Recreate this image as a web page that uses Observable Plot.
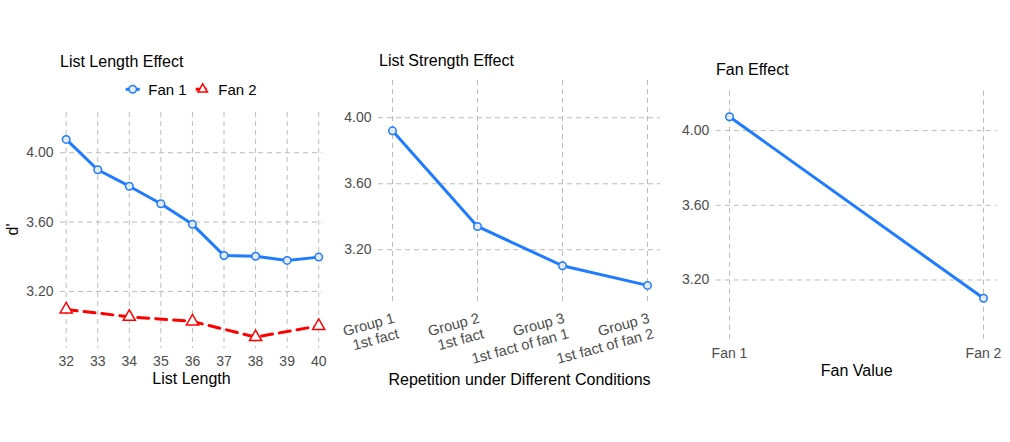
<!DOCTYPE html>
<html><head><meta charset="utf-8">
<script src="https://cdn.jsdelivr.net/npm/d3@7"></script>
<script src="https://cdn.jsdelivr.net/npm/@observablehq/plot@0.6"></script>
<style>
html,body{margin:0;padding:0;background:#fff;}
#wrap{position:relative;width:1010px;height:442px;overflow:hidden;background:#fff;}
#wrap svg{position:absolute;top:0;overflow:visible;}
</style></head><body><div id="wrap"></div>
<script>
// ---- data ----
const listLengths = [32, 33, 34, 35, 36, 37, 38, 39, 40];
const fan1ByLength = [4.077, 3.902, 3.807, 3.706, 3.587, 3.407, 3.403, 3.379, 3.398];
const fan2Lengths = [32, 34, 36, 38, 40];
const fan2ByLength = [3.096, 3.054, 3.027, 2.937, 3.001];
const conditions = ["Group 1\n1st fact", "Group 2\n1st fact", "Group 3\n1st fact of fan 1", "Group 3\n1st fact of fan 2"];
const strengthValues = [3.921, 3.341, 3.103, 2.984];
const fanLevels = ["Fan 1", "Fan 2"];
const fanValues = [4.074, 3.102];
const yTicks = [3.2, 3.6, 4.0];
const seriesNames = ["Fan 1", "Fan 2"];
const panelTitles = ["List Length Effect", "List Strength Effect", "Fan Effect"];
const xTitles = ["List Length", "Repetition under Different Conditions", "Fan Value"];
const yTitle = "d'";

// ---- styles ----
const FONT = '"Liberation Sans", Arial, Helvetica, sans-serif';
const BLUE = "#1f7bff", RED = "#ff0000", GRID = "#bbbbbb", TICK = "#4d4d4d";
const DOTFILL = "#e4ebf6";
const gridX = v => Plot.ruleX(v, {stroke: GRID, strokeWidth: 1, strokeDasharray: "5,4"});
const gridY = () => Plot.ruleY(yTicks, {stroke: GRID, strokeWidth: 1, strokeDasharray: "5,4"});
const axY = () => Plot.axisY({ticks: yTicks, tickFormat: d3.format(".2f"), tickSize: 0, tickPadding: 7, fontSize: 14, color: TICK, label: null});
const xTitle = (t, dy) => Plot.text([t], {text: d => d, frameAnchor: "bottom", dy, fontSize: 16, fill: "#000", lineAnchor: "middle"});

const fan1Data = listLengths.map((x, i) => ({x, y: fan1ByLength[i]}));
const fan2Data = fan2Lengths.map((x, i) => ({x, y: fan2ByLength[i]}));
const strengthData = conditions.map((c, i) => ({x: c, y: strengthValues[i]}));
const fanData = fanLevels.map((c, i) => ({x: c, y: fanValues[i]}));

const wrap = document.getElementById("wrap");

// ---- panel 1 ----
const p1 = Plot.plot({
  width: 335, height: 442,
  marginLeft: 60, marginRight: 13, marginTop: 112, marginBottom: 94,
  x: {domain: [31.82, 40.12]},
  y: {domain: [2.871, 4.232]},
  style: {fontFamily: FONT, background: "transparent"},
  marks: [
    gridX(listLengths), gridY(),
    Plot.axisX({ticks: listLengths, tickFormat: d => String(d), tickSize: 0, tickPadding: 8, fontSize: 14, color: TICK, label: null}),
    axY(),
    xTitle(xTitles[0], 30),
    Plot.text([yTitle], {text: d => d, frameAnchor: "left", dx: -48, dy: 5, rotate: -90, fontSize: 16, fill: "#000"}),
    Plot.line(fan2Data, {x: "x", y: "y", stroke: RED, strokeWidth: 3, strokeDasharray: "11,7"}),
    Plot.dot(fan2Data, {x: "x", y: "y", symbol: "triangle", r: 4.5, stroke: RED, strokeWidth: 1.5, fill: "#fff"}),
    Plot.line(fan1Data, {x: "x", y: "y", stroke: BLUE, strokeWidth: 3}),
    Plot.dot(fan1Data, {x: "x", y: "y", r: 3.75, stroke: BLUE, strokeWidth: 1.5, fill: DOTFILL})
  ]
});
p1.style.left = "0px";
wrap.appendChild(p1);

// ---- panel 2 ----
const p2 = Plot.plot({
  width: 335, height: 442,
  marginLeft: 43, marginRight: 10, marginTop: 80, marginBottom: 137,
  x: {type: "point", domain: conditions, padding: 0.155, axis: null},
  y: {domain: [2.862, 4.226]},
  style: {fontFamily: FONT, background: "transparent"},
  marks: [
    gridX(conditions), gridY(),
    axY(),
    Plot.text(conditions, {x: d => d, text: d => d, frameAnchor: "bottom", dy: 6, rotate: -15, textAnchor: "end", lineAnchor: "top", lineHeight: 1.1, fontSize: 14.6, fill: TICK}),
    xTitle(xTitles[1], 74),
    Plot.line(strengthData, {x: "x", y: "y", stroke: BLUE, strokeWidth: 3}),
    Plot.dot(strengthData, {x: "x", y: "y", r: 3.75, stroke: BLUE, strokeWidth: 1.5, fill: DOTFILL})
  ]
});
p2.style.left = "335px";
wrap.appendChild(p2);

// ---- panel 3 ----
const p3 = Plot.plot({
  width: 340, height: 442,
  marginLeft: 45.7, marginRight: 13.3, marginTop: 90.7, marginBottom: 102,
  x: {type: "point", domain: fanLevels, padding: 0.052},
  y: {domain: [2.876, 4.211]},
  style: {fontFamily: FONT, background: "transparent"},
  marks: [
    gridX(fanLevels), gridY(),
    Plot.axisX({tickSize: 0, tickPadding: 8, fontSize: 14, color: TICK, label: null}),
    axY(),
    xTitle(xTitles[2], 30),
    Plot.line(fanData, {x: "x", y: "y", stroke: BLUE, strokeWidth: 3}),
    Plot.dot(fanData, {x: "x", y: "y", r: 3.75, stroke: BLUE, strokeWidth: 1.5, fill: DOTFILL})
  ]
});
p3.style.left = "670px";
wrap.appendChild(p3);

// ---- overlay: titles + legend ----
const ov = d3.create("svg").attr("width", 1010).attr("height", 442)
  .style("left", "0px").style("pointer-events", "none")
  .attr("font-family", FONT);
const titlePos = [[60, 66.7], [379, 66], [716, 75]];
panelTitles.forEach((t, i) => {
  ov.append("text").attr("x", titlePos[i][0]).attr("y", titlePos[i][1])
    .attr("font-size", 16).attr("fill", "#000").text(t);
});
const legendKeys = [
  {name: seriesNames[0], cx: 132.7, tx: 148.3, color: BLUE, dash: null, shape: "circle"},
  {name: seriesNames[1], cx: 202.7, tx: 218.3, color: RED, dash: "4,3", shape: "triangle"}
];
const ly = 89.3;
legendKeys.forEach(k => {
  ov.append("line").attr("x1", k.cx - 7).attr("x2", k.cx + 7).attr("y1", ly).attr("y2", ly)
    .attr("stroke", k.color).attr("stroke-width", 3).attr("stroke-dasharray", k.dash);
  if (k.shape === "circle") {
    ov.append("circle").attr("cx", k.cx).attr("cy", ly).attr("r", 3.75)
      .attr("fill", DOTFILL).attr("stroke", k.color).attr("stroke-width", 1.5);
  } else {
    ov.append("path").attr("transform", `translate(${k.cx},${ly})`)
      .attr("d", d3.symbol(d3.symbolTriangle2, Math.PI * 4.5 * 4.5)())
      .attr("fill", "#fff").attr("stroke", k.color).attr("stroke-width", 1.5);
  }
  ov.append("text").attr("x", k.tx).attr("y", ly).attr("dy", "0.35em")
    .attr("font-size", 15).attr("fill", "#000").text(k.name);
});
wrap.appendChild(ov.node());
</script></body></html>
